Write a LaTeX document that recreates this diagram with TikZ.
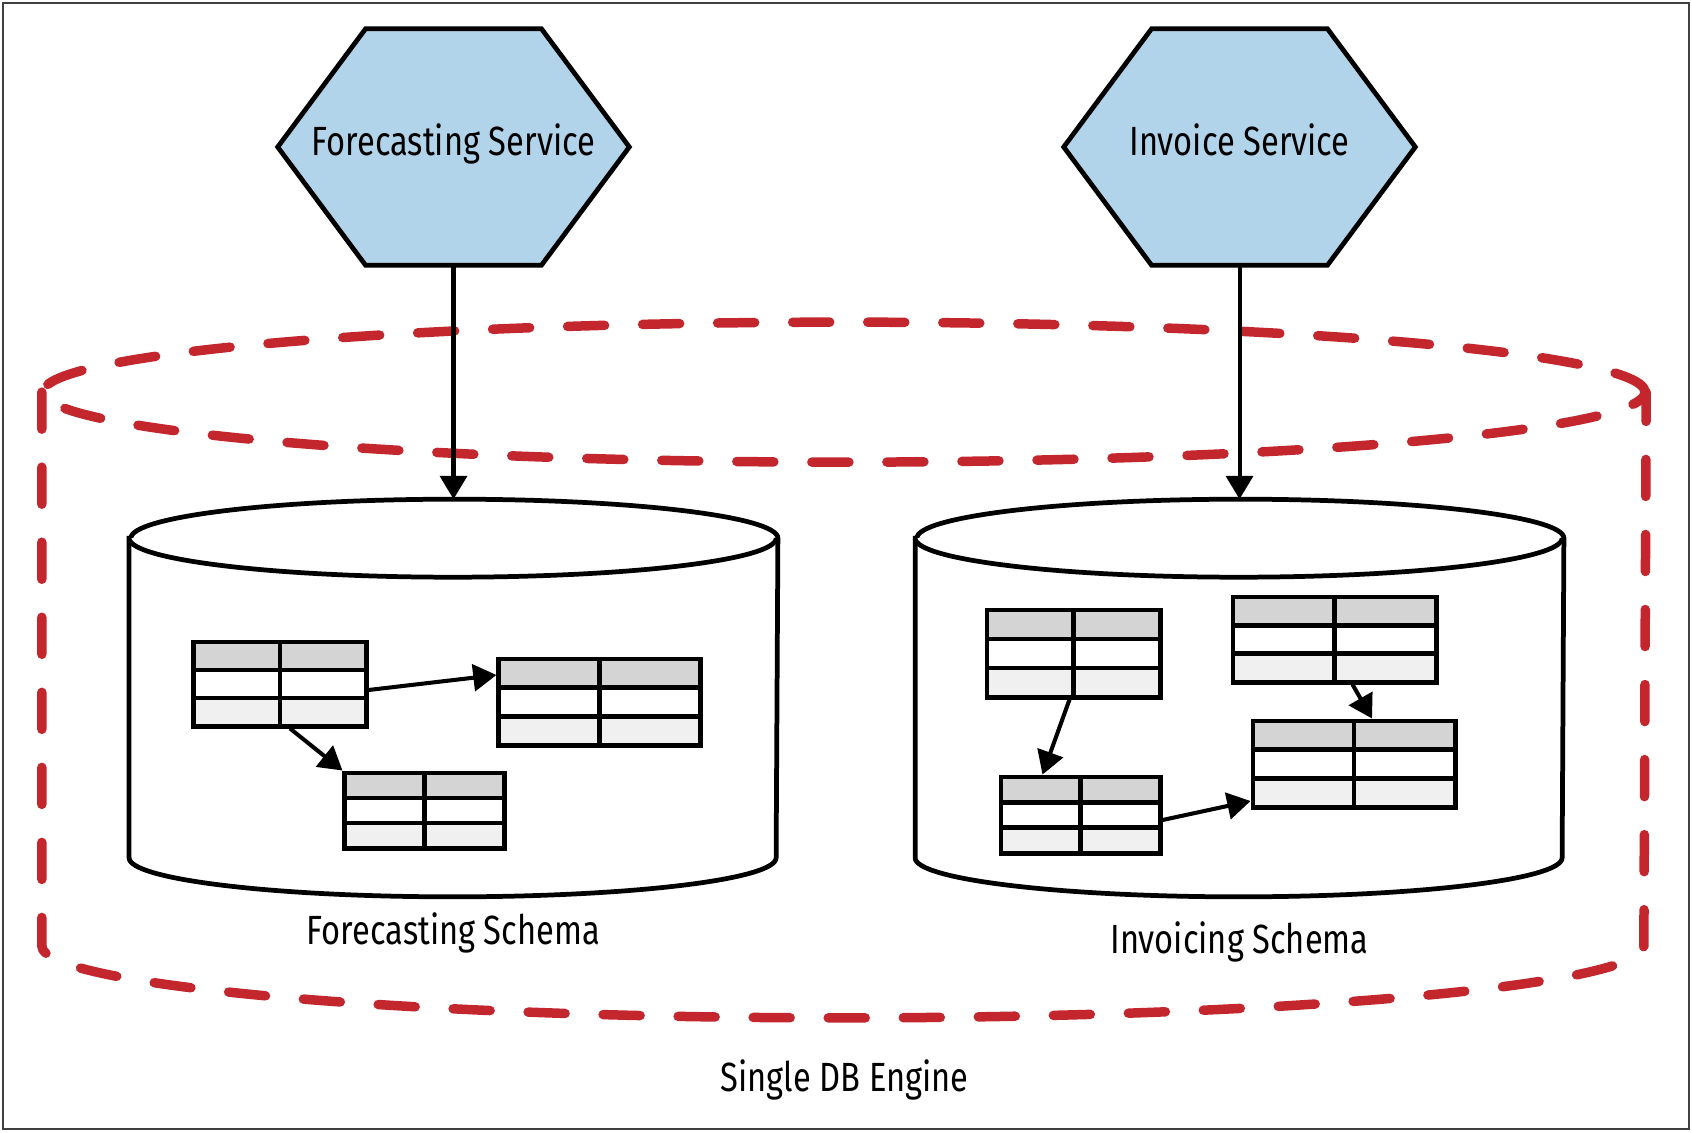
\documentclass[tikz,border=0pt]{standalone}
\usepackage{fontspec}
\setmainfont[FakeStretch=0.8]{Fira Sans}
\usepackage{tikz}
\usetikzlibrary{arrows.meta, calc, positioning, backgrounds}

\definecolor{hexblue}{RGB}{178,212,234}
\definecolor{engred}{RGB}{196,38,46}
\definecolor{tblhead}{RGB}{212,212,212}
\definecolor{tbllast}{RGB}{240,240,240}

\tikzset{
  lbl/.style={inner sep=0pt, text height=0.75em, text depth=0.25em, font=\fontsize{11.6}{13}\selectfont},
  svc/.style={lbl, minimum width=3.5cm, minimum height=2.35cm},
  hexa/.style={draw, fill=hexblue, line width=1.35pt},
  dbbox/.style={inner sep=0pt, minimum width=6.47cm, minimum height=3.96cm},
  dbline/.style={draw, fill=white, line width=1.35pt},
  engine/.style={draw=engred, line width=2.7pt, line cap=round, dash pattern=on 0.37cm off 0.38cm},
  flow/.style={-{Triangle[length=6.6pt, width=7.6pt]}, line width=1.15pt},
  tbl/.style={draw, line width=1.4pt, inner sep=0pt, fill=white,
    path picture={
      \coordinate (nw) at (path picture bounding box.north west);
      \coordinate (se) at (path picture bounding box.south east);
      \coordinate (r1) at ($(nw)!1/3!(se)$);
      \coordinate (r2) at ($(nw)!2/3!(se)$);
      \coordinate (cmid) at ($(nw)!1/2!(se)$);
      \fill[tblhead] (nw) rectangle (se |- r1);
      \fill[tbllast] (nw |- r2) rectangle (se);
      \draw[line width=1.4pt] (nw |- r1) -- (se |- r1) (nw |- r2) -- (se |- r2) (cmid |- nw) -- (cmid |- se);
    }},
}

\begin{document}
\begin{tikzpicture}[x=0.01cm, y=0.01cm]
        \useasboundingbox (0,0) rectangle (1692,1132);
        \draw[line width=0.6pt, black!75] (3,3) rectangle (1689,1129);
        % Engine outline
        \node[inner sep=0pt, minimum width=16.02cm, minimum height=5.52cm] (engine) at (844,463) {};
        \draw[engine] (engine.north west) -- (engine.south west)
          arc[start angle=180, end angle=360, x radius=801, y radius=72] -- (engine.north east);
        \draw[engine] (engine.north) ellipse [x radius=801, y radius=70];
        % Services
        \node[svc] (fsvc) at (453.5,985) {Forecasting Service};
        \node[svc] (isvc) at (1239.5,985) {Invoice Service};
        \begin{scope}[on background layer]
          \foreach \s in {fsvc, isvc}
            \draw[hexa] (\s.west) -- ($(\s.north west)!.25!(\s.north east)$) -- ($(\s.north west)!.75!(\s.north east)$)
              -- (\s.east) -- ($(\s.south west)!.75!(\s.south east)$) -- ($(\s.south west)!.25!(\s.south east)$) -- cycle;
        \end{scope}
        % Schemas
        \node[dbbox] (fdb) at (453.5,434) {};
        \node[dbbox] (idb) at (1239.5,434) {};
        \foreach \d in {fdb, idb} {
          \draw[dbline] ($(\d.north west)+(0,-39)$) -- ($(\d.south west)+(0,39)$)
            arc[start angle=180, end angle=360, x radius=323.5, y radius=39] -- ($(\d.north east)+(0,-39)$)
            arc[start angle=0, end angle=180, x radius=323.5, y radius=39] -- cycle;
          \draw[dbline] ($(\d.north west)+(0,-39)$) arc[start angle=180, end angle=360, x radius=323.5, y radius=39];
        }
        \draw[flow] (fsvc) -- (fdb);
        \draw[flow] (isvc) -- (idb);
        % Tables
        \node[tbl, minimum width=1.72cm, minimum height=0.84cm] (ta) at (280,448) {};
        \node[tbl, minimum width=2.01cm, minimum height=0.86cm] (tb) at (599.5,430) {};
        \node[tbl, minimum width=1.59cm, minimum height=0.75cm] (tc) at (424.5,321.5) {};
        \node[tbl, minimum width=1.73cm, minimum height=0.87cm] (td) at (1073.5,478.5) {};
        \node[tbl, minimum width=2.03cm, minimum height=0.85cm] (te) at (1334.5,492.5) {};
        \node[tbl, minimum width=1.59cm, minimum height=0.76cm] (tf) at (1080.5,317) {};
        \node[tbl, minimum width=2.02cm, minimum height=0.86cm] (tg) at (1354,368) {};
        \draw[flow] ($(ta.east)+(0,-6)$) -- ($(tb.west)+(0,27)$);
        \draw[flow] ($(ta.south)+(10,0)$) -- (tc.north west);
        \draw[flow] ($(td.south)+(-4,0)$) -- ($(tf.north)+(-38,0)$);
        \draw[flow] ($(te.south)+(18,0)$) -- ($(tg.north)+(18,0)$);
        \draw[flow] ($(tf.east)+(0,-5)$) -- ($(tg.west)+(0,-37)$);
        % Labels
        \node[lbl, below=0.205cm of fdb] (fschema) {Forecasting Schema};
        \node[lbl, below=0.295cm of idb] (ischema) {Invoicing Schema};
        \node[lbl] (dbeng) at (844.5,49.5) {Single DB Engine};
      \end{tikzpicture}
\end{document}
